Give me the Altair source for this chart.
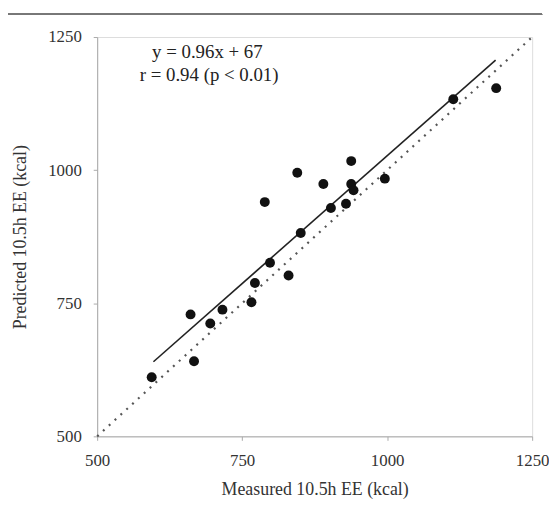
import altair as alt
import pandas as pd

# Measured vs predicted 10.5h energy expenditure (kcal)
measured = [594, 667, 661, 695, 716, 766, 772, 798, 830, 851, 789, 845,
            890, 903, 929, 938, 938, 942, 996, 1114, 1188]
predicted = [611, 641, 729, 712, 738, 752, 788, 826, 802, 882, 940, 995,
             974, 929, 937, 1017, 974, 962, 984, 1133, 1154]

# Regression line y = 0.96x + 67 drawn over the measured range
fit_slope = 0.96
fit_intercept = 67
fit_x = [597, 1187]
# Line of identity
identity = [500, 1250]

annot_text = ["y = 0.96x + 67", "r = 0.94 (p < 0.01)"]
annot_x = [690, 693]
annot_y = [1222, 1178]

ticks = [500, 750, 1000, 1250]
W, H = 439, 403
FONT = "Liberation Serif"

pts = pd.DataFrame({"m": measured, "p": predicted})
fit = pd.DataFrame({"m": fit_x, "p": [fit_slope * v + fit_intercept for v in fit_x]})
ident = pd.DataFrame({"m": identity, "p": identity})
ann = pd.DataFrame({"m": annot_x, "p": annot_y, "t": annot_text})

xs = alt.Scale(domain=[500, 1250], nice=False, zero=False)
ys = alt.Scale(domain=[500, 1250], nice=False, zero=False)

x_axis = alt.Axis(values=ticks, grid=False, title="Measured 10.5h EE (kcal)", format="d",
                  labelFont=FONT, labelFontSize=17, labelColor="#333", labelFlush=False,
                  titleFont=FONT, titleFontSize=18, titleFontWeight="normal", titleColor="#333",
                  domainColor="#aaa", tickColor="#aaa", tickSize=4,
                  labelPadding=12, titlePadding=13)
y_axis = alt.Axis(values=ticks, grid=False, title="Predicted 10.5h EE (kcal)", format="d",
                  labelFont=FONT, labelFontSize=17, labelColor="#333", labelFlush=False,
                  titleFont=FONT, titleFontSize=18, titleFontWeight="normal", titleColor="#333",
                  domainColor="#aaa", tickColor="#aaa", tickSize=4,
                  labelPadding=12, titlePadding=18)

base_x = alt.X("m:Q", scale=xs, axis=x_axis)
base_y = alt.Y("p:Q", scale=ys, axis=y_axis)

ident_line = alt.Chart(ident).mark_line(color="#555", strokeWidth=2.2, strokeDash=[2, 6]).encode(
    x=base_x, y=base_y)
fit_line = alt.Chart(fit).mark_line(color="#222", strokeWidth=1.6).encode(
    x=alt.X("m:Q", scale=xs), y=alt.Y("p:Q", scale=ys))
points = alt.Chart(pts).mark_circle(color="#111", opacity=1, size=100).encode(
    x=alt.X("m:Q", scale=xs), y=alt.Y("p:Q", scale=ys))
text = alt.Chart(ann).mark_text(font=FONT, fontSize=19, color="#222", align="center",
                                baseline="middle").encode(
    x=alt.X("m:Q", scale=xs), y=alt.Y("p:Q", scale=ys), text="t:N")
top_rule = alt.Chart(pts).mark_rule(color="#777", strokeWidth=1.2).encode(
    x=alt.value(-90), x2=alt.value(449), y=alt.value(-23))

chart = (ident_line + fit_line + points + text + top_rule).properties(
    width=W, height=H,
    autosize=alt.AutoSizeParams(type="none"),
    padding={"left": 90, "top": 27, "right": 17, "bottom": 68},
).configure_view(stroke=None).configure(background="white")

chart.save("out.html", embed_options={"renderer": "svg", "actions": False})
